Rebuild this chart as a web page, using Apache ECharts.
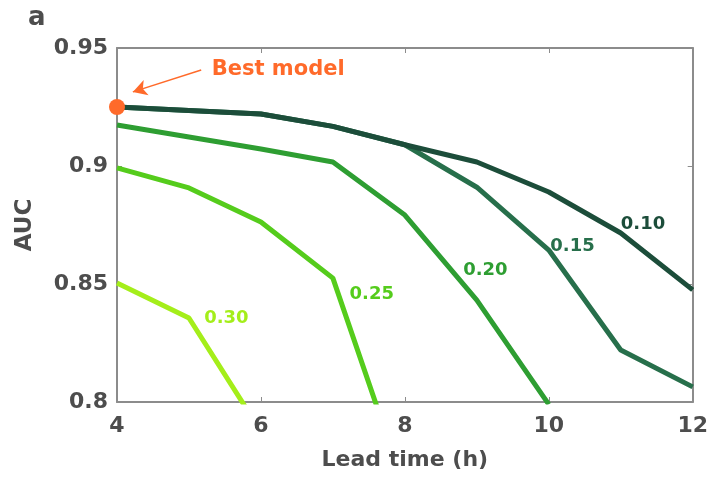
<!DOCTYPE html>
<html>
<head>
<meta charset="utf-8">
<script src="https://cdn.jsdelivr.net/npm/echarts@6/dist/echarts.min.js"></script>
<style>
  html, body { margin: 0; padding: 0; background: #fff; }
  #chart { width: 711px; height: 477px; }
</style>
</head>
<body>
<div id="chart"></div>
<script>
// lead time (h) on x, AUC per threshold
const leadTimes = [4, 5, 6, 7, 8, 9, 10, 11, 12]
const auc010 = [0.925, 0.9235, 0.922, 0.9168, 0.909, 0.9017, 0.889, 0.8716, 0.8475]
const auc015 = [0.925, 0.9235, 0.922, 0.9168, 0.909, 0.891, 0.8644, 0.822, 0.8064]
const auc020 = [0.9174, 0.9123, 0.9072, 0.9017, 0.8792, 0.8432, 0.799]
const auc025 = [0.8992, 0.8907, 0.8763, 0.8525, 0.7635]
const auc030 = [0.8504, 0.8356, 0.7875]
const thresholds = ['0.10', '0.15', '0.20', '0.25', '0.30']
const colors = ['#1c4d3a', '#276f4b', '#2e9e32', '#55cc1c', '#a4ee1a']
// where each threshold text sits (data coords)
const labelSpots = [[11.31, 0.8754], [10.33, 0.8661], [9.12, 0.8559], [7.54, 0.8458], [5.52, 0.8356]]
const bestModel = [4, 0.925]
const orange = '#ff6a2a'
const font = 'DejaVu Sans'

const allSeries = [auc010, auc015, auc020, auc025, auc030]

const chart = echarts.init(document.getElementById('chart'))

const lineSeries = allSeries.map((vals, i) => ({
    name: thresholds[i],
    type: 'line',
    z: 10 - i,
    symbol: 'none',
    clip: true,
    lineStyle: { color: colors[i], width: 5 },
    data: vals.map((v, j) => [leadTimes[j], v]),
    markPoint: {
        symbol: 'circle',
        symbolSize: 0,
        silent: true,
        data: [{
            coord: labelSpots[i],
            label: {
                show: true,
                formatter: thresholds[i],
                color: colors[i],
                fontFamily: font,
                fontWeight: 'bold',
                fontSize: 18
            }
        }]
    }
}))

const option = {
    animation: false,
    grid: { left: 117, right: 15, top: 48, bottom: 75 },
    xAxis: [{
        type: 'value', min: 4, max: 12, interval: 2,
        name: 'Lead time (h)', nameLocation: 'middle', nameGap: 47,
        nameTextStyle: { fontFamily: font, fontWeight: 'bold', fontSize: 22, color: '#4d4d4d' },
        axisLine: { lineStyle: { color: '#8c8c8c', width: 2 } },
        axisTick: { inside: true, length: 5, lineStyle: { color: '#8c8c8c', width: 1 } },
        axisLabel: { fontFamily: font, fontWeight: 'bold', fontSize: 22, color: '#4d4d4d', margin: 13 },
        splitLine: { show: false }
    }, {
        type: 'value', min: 4, max: 12, interval: 2, position: 'top',
        axisLine: { lineStyle: { color: '#8c8c8c', width: 2 } },
        axisTick: { inside: true, length: 5, lineStyle: { color: '#8c8c8c', width: 1 } },
        axisLabel: { show: false },
        splitLine: { show: false }
    }],
    yAxis: [{
        type: 'value', min: 0.8, max: 0.95, interval: 0.05,
        name: 'AUC', nameLocation: 'middle', nameGap: 80, nameRotate: 90,
        nameTextStyle: { fontFamily: font, fontWeight: 'bold', fontSize: 23, color: '#4d4d4d' },
        axisLine: { show: true, lineStyle: { color: '#8c8c8c', width: 2 } },
        axisTick: { show: true, inside: true, length: 5, lineStyle: { color: '#8c8c8c', width: 1 } },
        axisLabel: { fontFamily: font, fontWeight: 'bold', fontSize: 22, color: '#4d4d4d', margin: 9 },
        splitLine: { show: false }
    }, {
        type: 'value', min: 0.8, max: 0.95, interval: 0.05, position: 'right',
        axisLine: { show: true, lineStyle: { color: '#8c8c8c', width: 2 } },
        axisTick: { show: true, inside: true, length: 5, lineStyle: { color: '#8c8c8c', width: 1 } },
        axisLabel: { show: false },
        splitLine: { show: false }
    }],
    graphic: [{
        type: 'text', left: 28, top: 5,
        style: { text: 'a', fontFamily: font, fontWeight: 'bold', fontSize: 26, fill: '#4d4d4d' }
    }],
    series: [...lineSeries, {
        name: 'best',
        type: 'scatter',
        z: 20,
        symbolSize: 16,
        itemStyle: { color: orange, opacity: 1 },
        data: [bestModel],
        markLine: {
            silent: true,
            symbol: ['none', 'arrow'],
            symbolSize: [12, 14],
            lineStyle: { color: orange, width: 1.5, type: 'solid' },
            label: { show: false },
            data: [[{ coord: [5.17, 0.9407] }, { coord: [4.22, 0.9314] }]]
        },
        markPoint: {
            symbol: 'circle',
            symbolSize: 0,
            silent: true,
            data: [{
                coord: [6.24, 0.9407],
                label: {
                    show: true, formatter: 'Best model', color: orange,
                    fontFamily: font, fontWeight: 'bold', fontSize: 21
                }
            }]
        }
    }]
}

chart.setOption(option)
</script>
</body>
</html>
